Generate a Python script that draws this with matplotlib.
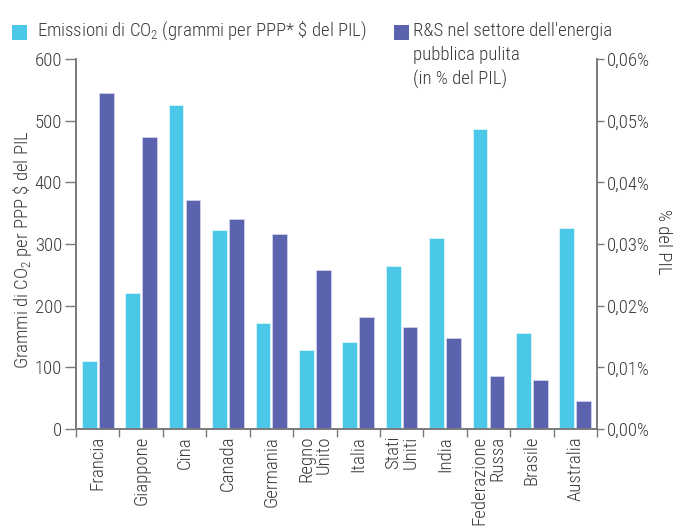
import numpy as np
import matplotlib
matplotlib.use('Agg')
import matplotlib.pyplot as plt
from matplotlib.patches import Rectangle

plt.rcParams['font.family'] = ['Roboto Condensed', 'Roboto', 'DejaVu Sans']
plt.rcParams['font.weight'] = 'light'
plt.rcParams['axes.labelweight'] = 'light'
plt.rcParams['mathtext.default'] = 'regular'

# data
paesi = ['Francia', 'Giappone', 'Cina', 'Canada', 'Germania', 'Regno\nUnito',
         'Italia', 'Stati\nUniti', 'India', 'Federazione\nRussa', 'Brasile', 'Australia']
co2 = [110, 220, 525, 322, 172, 128, 141, 264, 309, 486, 155, 326]          # g per PPP $ del PIL
rs = [0.0545, 0.0474, 0.0371, 0.0340, 0.0316, 0.0258, 0.0182, 0.0166,
      0.0148, 0.0086, 0.0079, 0.0045]                                         # % del PIL
left_ticks = [0, 100, 200, 300, 400, 500, 600]
right_ticks = [0.0, 0.01, 0.02, 0.03, 0.04, 0.05, 0.06]
legenda_rs = ["R&S nel settore dell'energia", 'pubblica pulita', '(in % del PIL)']

cyan = '#4bc8e8'
purple = '#5b62ae'
axis_col = '#7a7a7a'
txt = '#3a3a3a'
fs = 13.5

fig = plt.figure(figsize=(6.86, 5.27), dpi=100)
W, H = 686, 527
ax = fig.add_axes([76 / W, 1 - 429 / H, (597 - 76) / W, (429 - 59) / H])
ax2 = ax.twinx()

x = np.arange(len(paesi))
bw = 0.34
off = 0.195
ax.bar(x - off, co2, width=bw, color=cyan, edgecolor=(1, 1, 1, 0.6), linewidth=0.6, zorder=2)
ax2.bar(x + off, rs, width=bw, color=purple, edgecolor=(0.85, 0.85, 0.95, 0.8), linewidth=0.6, zorder=2)

ax.set_xlim(-0.5, len(paesi) - 0.5)
ax.set_ylim(0, 600)
ax2.set_ylim(0, 0.06)

ax.set_yticks(left_ticks)
ax.set_yticklabels([str(v) for v in left_ticks])
ax2.set_yticks(right_ticks)
ax2.set_yticklabels([('%.2f' % v).replace('.', ',') + '%' for v in right_ticks])

# country labels at centres, tick marks at the group boundaries
ax.set_xticks(x)
ax.set_xticklabels(paesi, rotation=90, multialignment='right', linespacing=0.95)
ax.set_xticks(np.arange(-0.5, len(paesi), 1), minor=True)
ax.tick_params(axis='x', which='major', length=0, pad=5, labelsize=fs, labelcolor=txt)
ax.tick_params(axis='x', which='minor', length=6, width=1, color=axis_col, direction='out')
ax.tick_params(axis='y', length=8, width=1, color=axis_col, pad=2, labelsize=fs, labelcolor=txt)
ax2.tick_params(axis='y', length=5, width=1, color=axis_col, pad=2, labelsize=fs, labelcolor=txt)

for a in (ax, ax2):
    a.spines['top'].set_visible(False)
    for s in ('left', 'right', 'bottom'):
        a.spines[s].set_color(axis_col)
        a.spines[s].set_linewidth(1.2)

ax.set_ylabel('Grammi di CO$_2$ per PPP $\\$$ del PIL', fontsize=fs, color=txt, fontweight='light')
ax2.set_ylabel('% del PIL', fontsize=fs, color=txt, rotation=270, fontweight='light')
ax.yaxis.set_label_coords(-0.081, 0.484)
ax2.yaxis.set_label_coords(1.143, 0.505)

# legend drawn by hand at the top
fig.add_artist(Rectangle((12 / W, 1 - 40 / H), 15 / W, 15 / H, transform=fig.transFigure,
                         color=cyan, lw=0))
fig.text(37 / W, 1 - 31 / H, 'Emissioni di CO$_2$ (grammi per PPP* $\\$$ del PIL)',
         fontsize=fs, color=txt, va='center', ha='left')
fig.add_artist(Rectangle((394 / W, 1 - 40 / H), 15 / W, 15 / H, transform=fig.transFigure,
                         color=purple, lw=0))
for i, riga in enumerate(legenda_rs):
    fig.text(413 / W, 1 - (31 + 24 * i) / H, riga, fontsize=fs, color=txt, va='center', ha='left')

fig.savefig('out.png', dpi=100)
